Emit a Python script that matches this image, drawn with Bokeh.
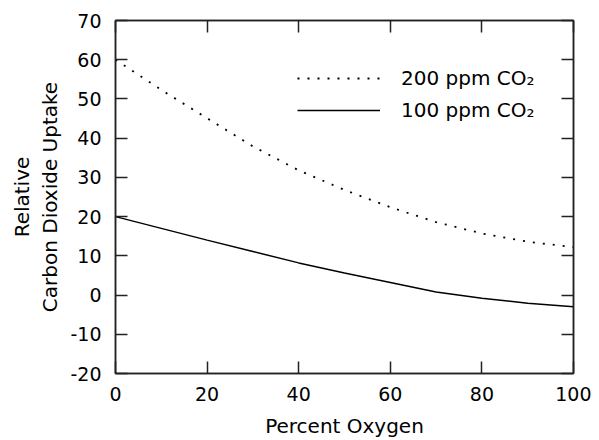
from bokeh.plotting import figure
from bokeh.models import LinearAxis, Range1d, FixedTicker, Legend, LegendItem, PrintfTickFormatter
from bokeh.embed import file_html
from bokeh.resources import INLINE

oxygen = [0, 10, 20, 30, 40, 50, 60, 70, 80, 90, 100]
uptake_200 = [60, 52.3, 45.1, 37.9, 31.8, 26.8, 22.4, 18.6, 15.7, 13.6, 12.2]
uptake_100 = [20, 17.0, 14.0, 11.1, 8.2, 5.6, 3.2, 0.8, -0.8, -2.1, -3.0]
x_ticks = [0, 20, 40, 60, 80, 100]
y_ticks = [-20, -10, 0, 10, 20, 30, 40, 50, 60, 70]
label_200 = "200 ppm CO\u2082"
label_100 = "100 ppm CO\u2082"

FONT = "DejaVu Sans"
TICK_FS = "19px"
TITLE_FS = "20px"

p = figure(width=591, height=440, output_backend="svg", toolbar_location=None,
           x_range=Range1d(0, 100), y_range=Range1d(-20, 70),
           x_axis_location=None, y_axis_location=None,
           frame_width=458, frame_height=353,
           min_border_left=115, min_border_top=20, min_border_right=18, min_border_bottom=67)
p.grid.visible = False
p.outline_line_color = "#222222"
p.outline_line_width = 1.5
p.background_fill_color = "white"
p.border_fill_color = "white"

def style(ax, ticks, labels=True):
    ax.formatter = PrintfTickFormatter(format="%d")
    ax.major_tick_in = 12
    ax.major_tick_out = 0
    ax.minor_tick_line_color = None
    ax.axis_line_color = "#222222"
    ax.axis_line_width = 1.5
    ax.major_tick_line_color = "#222222"
    ax.major_tick_line_width = 1.5
    ax.major_label_text_font = FONT
    ax.major_label_text_font_size = TICK_FS
    ax.major_label_text_color = "black"
    ax.axis_label_text_font = FONT
    ax.axis_label_text_font_size = TITLE_FS
    ax.axis_label_text_font_style = "normal"
    ax.axis_label_text_color = "black"
    if not labels:
        ax.major_label_overrides = {t: "" for t in ticks}
        ax.major_label_standoff = 0

xb = LinearAxis(ticker=FixedTicker(ticks=x_ticks), axis_label="Percent Oxygen")
style(xb, x_ticks)
xb.major_label_standoff = 13
xb.axis_label_standoff = 10
p.add_layout(xb, "below")

yl = LinearAxis(ticker=FixedTicker(ticks=y_ticks), axis_label="Relative\nCarbon Dioxide Uptake")
style(yl, y_ticks)
yl.major_label_standoff = 14
yl.axis_label_standoff = 5
p.add_layout(yl, "left")

xt = LinearAxis(ticker=FixedTicker(ticks=x_ticks))
style(xt, x_ticks, labels=False)
p.add_layout(xt, "above")

yr = LinearAxis(ticker=FixedTicker(ticks=y_ticks))
style(yr, y_ticks, labels=False)
p.add_layout(yr, "right")

r200 = p.line(oxygen, uptake_200, line_color="black", line_width=1.8, line_dash="2 8")
r100 = p.line(oxygen, uptake_100, line_color="black", line_width=1.5)

legend = Legend(items=[LegendItem(label=label_200, renderers=[r200]),
                       LegendItem(label=label_100, renderers=[r100])],
                location=(182, 250))
legend.border_line_color = None
legend.background_fill_alpha = 0
legend.padding = 0
legend.margin = 0
legend.spacing = 6
legend.glyph_width = 83
legend.glyph_height = 26
legend.label_height = 26
legend.label_standoff = 21
legend.label_text_font = FONT
legend.label_text_font_size = TITLE_FS
legend.label_text_color = "black"
p.add_layout(legend, "center")

open("out.html", "w").write(file_html(p, INLINE))
